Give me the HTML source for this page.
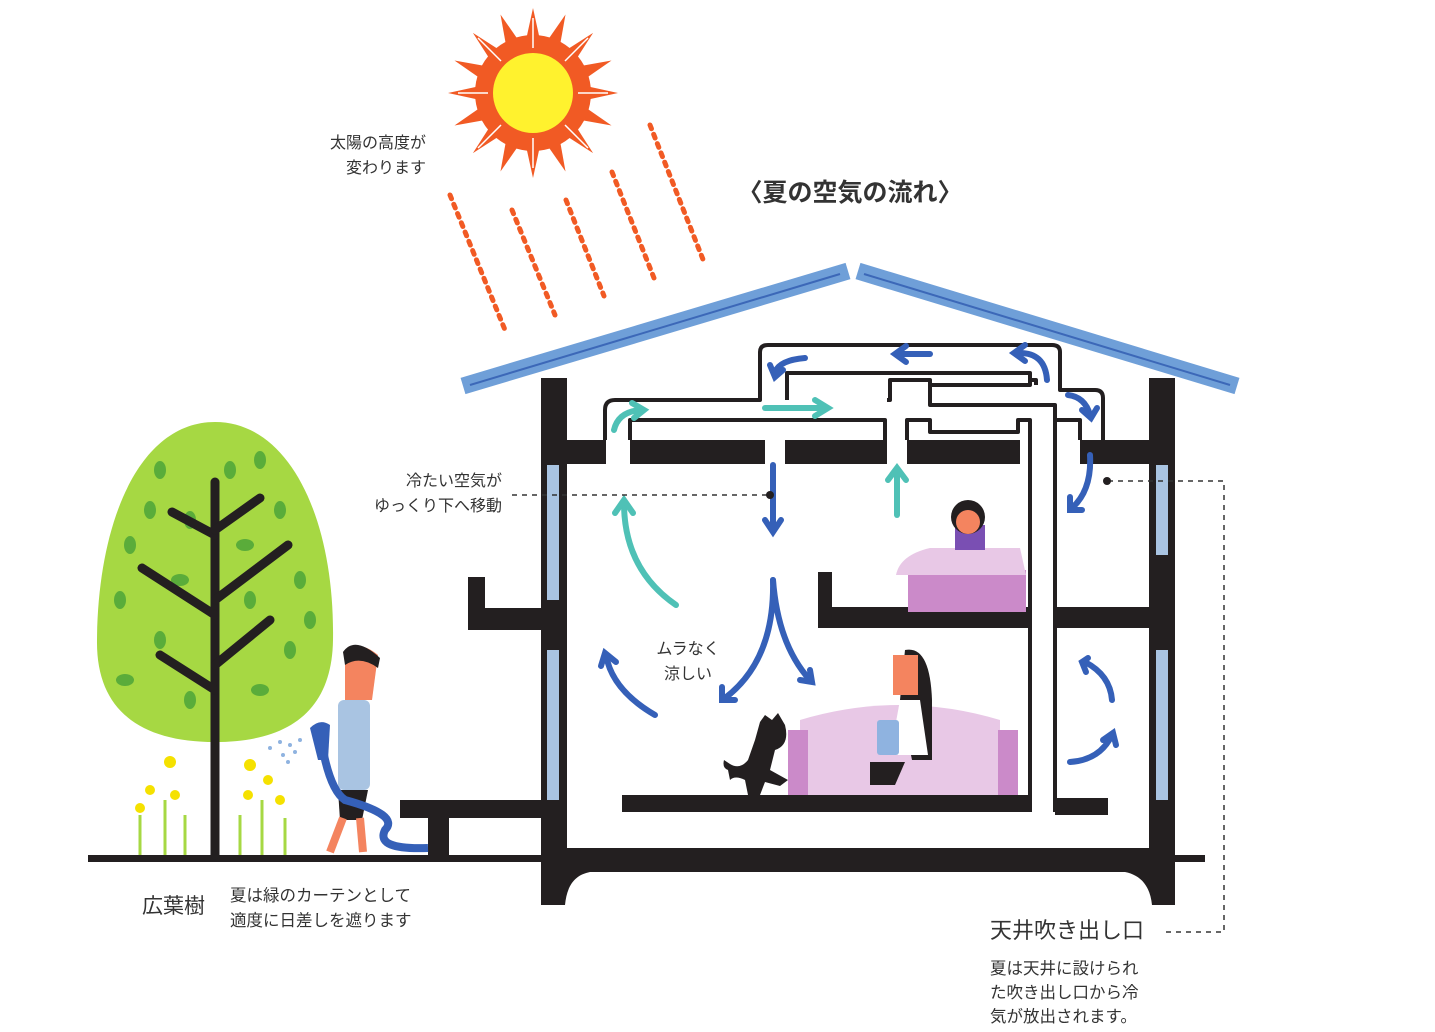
<!DOCTYPE html>
<html><head><meta charset="utf-8"><style>
html,body{margin:0;padding:0;background:#fff;width:1435px;height:1032px;overflow:hidden}
svg{display:block}
text{font-family:"Liberation Sans","Noto Sans CJK JP",sans-serif;fill:#333}
</style></head><body>
<svg width="1435" height="1032" viewBox="0 0 1435 1032" xmlns="http://www.w3.org/2000/svg">
<!-- sun -->
<g transform="translate(533,93)">
<g fill="#f15a24">
<polygon points="0,-85 12,-30 -12,-30" />
<polygon points="0,-85 12,-30 -12,-30" transform="rotate(22.5)"/>
<polygon points="0,-85 12,-30 -12,-30" transform="rotate(45)"/>
<polygon points="0,-85 12,-30 -12,-30" transform="rotate(67.5)"/>
<polygon points="0,-85 12,-30 -12,-30" transform="rotate(90)"/>
<polygon points="0,-85 12,-30 -12,-30" transform="rotate(112.5)"/>
<polygon points="0,-85 12,-30 -12,-30" transform="rotate(135)"/>
<polygon points="0,-85 12,-30 -12,-30" transform="rotate(157.5)"/>
<polygon points="0,-85 12,-30 -12,-30" transform="rotate(180)"/>
<polygon points="0,-85 12,-30 -12,-30" transform="rotate(202.5)"/>
<polygon points="0,-85 12,-30 -12,-30" transform="rotate(225)"/>
<polygon points="0,-85 12,-30 -12,-30" transform="rotate(247.5)"/>
<polygon points="0,-85 12,-30 -12,-30" transform="rotate(270)"/>
<polygon points="0,-85 12,-30 -12,-30" transform="rotate(292.5)"/>
<polygon points="0,-85 12,-30 -12,-30" transform="rotate(315)"/>
<polygon points="0,-85 12,-30 -12,-30" transform="rotate(337.5)"/>
<circle r="58"/>
</g>
<g stroke="#fff" stroke-width="1.5"><line x1="0" y1="-45" x2="0" y2="-75"/><line x1="45" y1="0" x2="75" y2="0"/><line x1="0" y1="45" x2="0" y2="75"/><line x1="-45" y1="0" x2="-75" y2="0"/><line x1="32" y1="32" x2="55" y2="55"/><line x1="-32" y1="32" x2="-55" y2="55"/><line x1="32" y1="-32" x2="55" y2="-55"/><line x1="-32" y1="-32" x2="-55" y2="-55"/></g>
<circle r="40" fill="#fff22e"/>
</g>
<!-- sun rays dotted -->
<g stroke="#f15a24" stroke-width="5" stroke-dasharray="4 6" stroke-linecap="round">
<line x1="450" y1="195" x2="505" y2="330"/>
<line x1="512" y1="210" x2="555" y2="315"/>
<line x1="566" y1="200" x2="604" y2="296"/>
<line x1="612" y1="172" x2="654" y2="278"/>
<line x1="650" y1="125" x2="704" y2="262"/>
</g>
<!-- titles -->
<text x="850" y="201" font-size="25" font-weight="bold" text-anchor="middle" fill="#222">〈夏の空気の流れ〉</text>
<text x="426" y="148" font-size="16" text-anchor="end">太陽の高度が</text>
<text x="426" y="173" font-size="16" text-anchor="end">変わります</text>
<!-- roof -->
<g stroke="#6f9fd8" stroke-width="17" stroke-linecap="butt" fill="none">
<line x1="463" y1="386" x2="848" y2="271"/>
<line x1="858" y1="271" x2="1237" y2="386"/>
</g>
<g stroke="#3c68b8" stroke-width="2" fill="none">
<line x1="470" y1="385" x2="840" y2="274"/>
<line x1="864" y1="274" x2="1230" y2="385"/>
</g>
<!-- ground -->
<rect x="88" y="855" width="1117" height="7" fill="#231f20"/>
<!-- walls -->
<g fill="#231f20">
<rect x="541" y="378" width="26" height="470"/>
<rect x="1149" y="378" width="26" height="470"/>
<rect x="541" y="440" width="65" height="24"/>
<rect x="630" y="440" width="135" height="24"/>
<rect x="785" y="440" width="102" height="24"/>
<rect x="907" y="440" width="113" height="24"/>
<rect x="1080" y="440" width="95" height="24"/>
<path d="M541 848 H1175 V905 H1152 C1150 885 1140 875 1125 872 H590 C575 875 567 885 565 905 H541 Z"/>
<rect x="468" y="577" width="17" height="53"/>
<rect x="468" y="608" width="99" height="22"/>
<rect x="818" y="572" width="14" height="56"/>
<rect x="818" y="607" width="212" height="21"/>
<rect x="1055" y="607" width="96" height="21"/>
<rect x="622" y="795" width="410" height="17"/>
<rect x="1055" y="798" width="53" height="17"/>
<rect x="400" y="800" width="142" height="18"/>
<rect x="428" y="815" width="21" height="42"/>
</g>
<!-- windows -->
<g fill="#a9c4e2">
<rect x="547" y="465" width="12" height="135"/>
<rect x="547" y="650" width="12" height="150"/>
<rect x="1156" y="465" width="12" height="90"/>
<rect x="1156" y="650" width="12" height="150"/>
</g>
<!-- ducts -->
<g stroke="#231f20" stroke-width="4" fill="none" stroke-linejoin="round">
<path d="M605 440 V410 Q605 400 615 400 H760 V352 Q760 345 768 345 H1052 Q1060 345 1060 352 V390 H1095 Q1103 390 1103 398 V440"/>
<path d="M630 440 V420 H885 V440 M907 440 V420 H930 V432 H1018 V420 H1030 V812"/>
<path d="M787 400 V373 H1030 V385 H930 V380 H890 V400 H887"/>
<path d="M1055 812 V405 H1020 M1055 405 V420 H1080 V440"/>
<path d="M1030 380 H1036 V385 M930 385 V405 H1020"/>
</g>
<!-- arrows teal -->
<g fill="none" stroke="#4fc1b6" stroke-width="6" stroke-linecap="round">
<path d="M614 430 Q618 412 640 410"/><path d="M632 403 L644 410 L634 418"/>
<path d="M765 408 H825"/><path d="M815 400 L828 408 L815 416"/>
<path d="M897 515 V470"/><path d="M888 480 L897 468 L906 480"/>
<path d="M676 605 Q625 570 624 505"/><path d="M615 513 L624 500 L633 513"/>
</g>
<!-- arrows blue -->
<g fill="none" stroke="#3560b8" stroke-width="6" stroke-linecap="round">
<path d="M805 358 Q780 360 775 372"/><path d="M770 365 L775 377 L783 370"/>
<path d="M930 354 H898"/><path d="M906 346 L895 354 L906 362"/>
<path d="M1047 380 Q1045 352 1018 353"/><path d="M1025 345 L1014 353 L1025 361"/>
<path d="M1068 395 Q1085 397 1090 415"/><path d="M1082 410 L1091 418 L1097 408"/>
<path d="M1090 455 Q1092 490 1072 508"/><path d="M1070 497 L1070 510 L1082 510"/>
<path d="M773 465 V530"/><path d="M765 520 L773 532 L781 520"/>
<path d="M773 580 Q775 660 725 698"/><path d="M722 687 L722 700 L735 700"/>
<path d="M773 580 Q778 645 810 680"/><path d="M800 680 L812 682 L810 670"/>
<path d="M655 715 Q612 690 606 655"/><path d="M601 666 L605 653 L616 662"/>
<path d="M1112 700 Q1110 675 1085 662"/><path d="M1088 658 L1082 662 L1086 672"/>
<path d="M1070 762 Q1100 760 1112 735"/><path d="M1103 740 L1113 733 L1116 745"/>
</g>
<!-- dashed leaders -->
<g stroke="#333" stroke-width="1.5" stroke-dasharray="5 5" fill="none">
<line x1="512" y1="495" x2="770" y2="495"/>
<path d="M1108 481 H1224 V932 H1165"/>
</g>
<circle cx="770" cy="495" r="4" fill="#231f20"/>
<circle cx="1107" cy="481" r="4" fill="#231f20"/>
<!-- tree -->
<path d="M215 422 C290 422 335 520 333 640 C332 710 290 742 215 742 C140 742 96 710 97 640 C98 520 140 422 215 422 Z" fill="#a6d843"/>
<g fill="#5aac3a">
<ellipse cx="160" cy="470" rx="6" ry="9"/><ellipse cx="260" cy="460" rx="6" ry="9"/><ellipse cx="190" cy="520" rx="6" ry="9"/>
<ellipse cx="130" cy="545" rx="6" ry="9"/><ellipse cx="280" cy="510" rx="6" ry="9"/><ellipse cx="245" cy="545" rx="9" ry="6"/>
<ellipse cx="120" cy="600" rx="6" ry="9"/><ellipse cx="180" cy="580" rx="9" ry="6"/><ellipse cx="300" cy="580" rx="6" ry="9"/>
<ellipse cx="250" cy="600" rx="6" ry="9"/><ellipse cx="160" cy="640" rx="6" ry="9"/><ellipse cx="290" cy="650" rx="6" ry="9"/>
<ellipse cx="125" cy="680" rx="9" ry="6"/><ellipse cx="190" cy="700" rx="6" ry="9"/><ellipse cx="260" cy="690" rx="9" ry="6"/>
<ellipse cx="230" cy="470" rx="6" ry="9"/><ellipse cx="150" cy="510" rx="6" ry="9"/><ellipse cx="310" cy="620" rx="6" ry="9"/>
</g>
<g stroke="#231f20" stroke-width="9" stroke-linecap="round" fill="none">
<line x1="215" y1="482" x2="215" y2="855"/>
<line x1="215" y1="535" x2="172" y2="512"/><line x1="215" y1="530" x2="260" y2="498"/>
<line x1="215" y1="615" x2="142" y2="568"/><line x1="215" y1="600" x2="288" y2="545"/>
<line x1="215" y1="690" x2="160" y2="655"/><line x1="215" y1="665" x2="270" y2="620"/>
</g>
<!-- flowers -->
<g stroke="#a6d843" stroke-width="3"><line x1="140" y1="855" x2="140" y2="815"/><line x1="165" y1="855" x2="165" y2="800"/><line x1="185" y1="855" x2="185" y2="815"/><line x1="240" y1="855" x2="240" y2="815"/><line x1="262" y1="855" x2="262" y2="800"/><line x1="285" y1="855" x2="285" y2="818"/></g>
<g fill="#f5e100"><circle cx="170" cy="762" r="6"/><circle cx="150" cy="790" r="5"/><circle cx="175" cy="795" r="5"/><circle cx="250" cy="765" r="6"/><circle cx="268" cy="780" r="5"/><circle cx="248" cy="795" r="5"/><circle cx="280" cy="800" r="5"/><circle cx="140" cy="808" r="5"/></g>
<!-- boy -->
<path d="M345 650 Q360 640 378 655 L372 700 L345 700 Z" fill="#f4845f"/>
<path d="M343 652 Q355 635 380 658 L378 668 Q360 655 345 665 Z" fill="#231f20"/>
<rect x="338" y="700" width="32" height="90" rx="6" fill="#a9c4e2"/>
<path d="M338 790 H368 L362 820 H340 Z" fill="#231f20"/>
<line x1="343" y1="818" x2="330" y2="852" stroke="#f4845f" stroke-width="8"/><line x1="360" y1="818" x2="363" y2="852" stroke="#f4845f" stroke-width="8"/>
<path d="M322 745 Q330 790 345 800 Q400 815 385 830 Q375 850 428 848" stroke="#3560b8" stroke-width="8" fill="none"/>
<path d="M310 728 Q320 718 330 725 L328 760 L318 760 Z" fill="#3560b8"/>
<g fill="#8fb3e0"><circle cx="300" cy="740" r="2"/><circle cx="290" cy="745" r="2"/><circle cx="280" cy="742" r="2"/><circle cx="295" cy="752" r="2"/><circle cx="283" cy="755" r="2"/><circle cx="270" cy="748" r="2"/><circle cx="288" cy="762" r="2"/></g>
<!-- girl in bed -->
<rect x="908" y="570" width="118" height="42" fill="#cb8ac9"/>
<path d="M896 575 Q900 555 930 548 H1020 L1026 575 Z" fill="#e8c8e6"/>
<rect x="955" y="525" width="30" height="25" fill="#7a4fb3"/>
<circle cx="968" cy="517" r="17" fill="#231f20"/><circle cx="968" cy="522" r="12" fill="#f4845f"/>
<!-- sofa & woman -->
<path d="M800 720 Q900 690 1000 720 V795 H800 Z" fill="#e8c8e6"/>
<rect x="788" y="730" width="20" height="65" fill="#cb8ac9"/><rect x="998" y="730" width="20" height="65" fill="#cb8ac9"/>
<path d="M905 650 Q930 645 932 700 V760 H912 L900 700 Z" fill="#231f20"/>
<path d="M893 655 H918 V695 H893 Z" fill="#f4845f"/>
<path d="M900 700 H920 L928 755 H890 Z" fill="#fff"/>
<rect x="877" y="720" width="22" height="35" rx="3" fill="#8fb3e0"/>
<path d="M870 762 H905 L895 785 H870 Z" fill="#231f20"/>
<!-- cat -->
<g fill="#231f20">
<path d="M760 722 L765 715 L772 720 L778 713 L785 725 Q790 745 775 750 L770 770 L788 780 L780 786 L765 782 L760 795 L748 795 L745 780 Q735 775 730 780 L728 770 Q722 768 724 760 L730 764 Q740 770 748 760 L755 740 Z"/>
</g>
<!-- labels -->
<text x="502" y="486" font-size="16" text-anchor="end">冷たい空気が</text>
<text x="502" y="511" font-size="16" text-anchor="end">ゆっくり下へ移動</text>
<text x="688" y="654" font-size="16" text-anchor="middle">ムラなく</text>
<text x="688" y="679" font-size="16" text-anchor="middle">涼しい</text>
<text x="142" y="913" font-size="21">広葉樹</text>
<text x="230" y="901" font-size="16.5">夏は緑のカーテンとして</text>
<text x="230" y="926" font-size="16.5">適度に日差しを遮ります</text>
<text x="990" y="938" font-size="22">天井吹き出し口</text>
<text x="990" y="974" font-size="16.5">夏は天井に設けられ</text>
<text x="990" y="998" font-size="16.5">た吹き出し口から冷</text>
<text x="990" y="1022" font-size="16.5">気が放出されます。</text>
</svg>
</body></html>
